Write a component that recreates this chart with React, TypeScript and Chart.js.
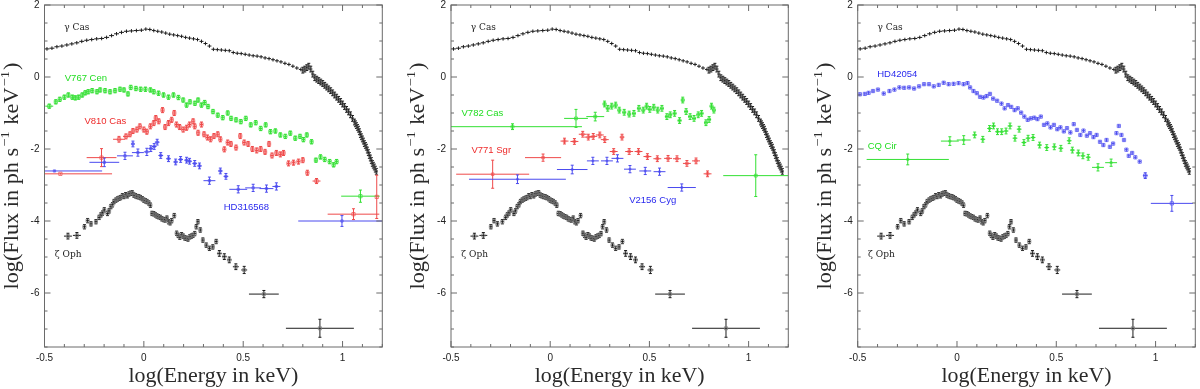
import React, { useEffect, useRef } from "react";
import { Chart, registerables } from "chart.js";
Chart.register(...registerables);

type P = number[]; // [x, y, xerr?, yerr?]

const X_MIN = -0.5, X_MAX = 1.2, Y_MIN = -7.5, Y_MAX = 2;
const X_MAJOR = [-0.5, 0, 0.5, 1];
const X_MAJOR_LABELS = ["-0.5", "0", "0.5", "1"];
const Y_MAJOR = [2, 0, -2, -4, -6];
const Y_MAJOR_LABELS = ["2", "0", "-2", "-4", "-6"];

// gamma Cas, split by bin width
const GAMMA_CAS_LOW: P[] = [
  [-0.4875,0.78],[-0.4625,0.8],[-0.4375,0.84],[-0.4125,0.86],[-0.3875,0.89],[-0.3625,0.92],[-0.3375,0.95],
  [-0.3125,0.99],[-0.2875,1.02],[-0.2625,1.04],[-0.2375,1.06],[-0.2125,1.07],[-0.1875,1.1],[-0.1625,1.15],
  [-0.1375,1.2],[-0.1125,1.24],[-0.0875,1.27],[-0.0625,1.28],[-0.0375,1.29],[-0.0125,1.3],
];
const GAMMA_CAS_MID: P[] = [
  [0.01,1.33],[0.03,1.32],[0.05,1.29],[0.07,1.27],[0.09,1.25],[0.11,1.22],[0.13,1.19],[0.15,1.17],
  [0.17,1.15],[0.19,1.13],[0.21,1.1],[0.23,1.08],[0.25,1.06],[0.27,1.04],[0.29,0.99],[0.31,0.93],
  [0.33,0.86],[0.35,0.77],[0.37,0.76],[0.39,0.75],[0.41,0.74],[0.43,0.73],[0.45,0.68],[0.47,0.66],
  [0.49,0.65],[0.51,0.63],[0.53,0.61],[0.55,0.59],[0.57,0.58],[0.59,0.56],[0.61,0.53],[0.63,0.51],
  [0.65,0.48],[0.67,0.45],[0.69,0.42],[0.71,0.38],[0.73,0.35],[0.75,0.3],[0.77,0.25],[0.79,0.21],
];
const GAMMA_CAS_HIGH: P[] = [
  [0.8,0.19],[0.81,0.22],[0.82,0.26],[0.83,0.3],[0.84,0.22],[0.85,0.08],[0.86,-0.02],[0.87,-0.06],
  [0.88,-0.1],[0.89,-0.14],[0.9,-0.18],[0.91,-0.23],[0.92,-0.28],[0.93,-0.33],[0.94,-0.38],[0.95,-0.44],
  [0.96,-0.5],[0.97,-0.56],[0.98,-0.62],[0.99,-0.68],[1.0,-0.75],[1.01,-0.82],[1.02,-0.9],[1.03,-0.97],
  [1.04,-1.05],[1.05,-1.15],[1.06,-1.25],[1.065,-1.3],[1.07,-1.35],[1.075,-1.4],[1.08,-1.45],
  [1.085,-1.52],[1.09,-1.6],[1.095,-1.66],[1.1,-1.72],[1.105,-1.78],[1.11,-1.85],[1.115,-1.9],
  [1.12,-1.95],[1.125,-2.03],[1.13,-2.1],[1.135,-2.18],[1.14,-2.25],[1.145,-2.32],[1.15,-2.4],
  [1.155,-2.45],[1.16,-2.5],[1.165,-2.56],[1.17,-2.62],
];

const ZETA_OPH: P[] = [
  [-0.382,-4.42,0.02,0.08],[-0.337,-4.4,0.02,0.08],[-0.299,-4.16],[-0.283,-3.99],[-0.266,-4.08],
  [-0.241,-4.02],[-0.225,-3.9],[-0.216,-3.83],[-0.208,-3.78],[-0.199,-3.69],[-0.183,-3.79],[-0.175,-3.72],
  [-0.166,-3.6],[-0.158,-3.55],[-0.15,-3.46],[-0.141,-3.42],[-0.133,-3.39],[-0.125,-3.37],[-0.117,-3.35],
  [-0.108,-3.3],[-0.1,-3.32],[-0.092,-3.27],[-0.083,-3.3],[-0.075,-3.25],[-0.067,-3.23],[-0.058,-3.22],
  [-0.05,-3.28],[-0.042,-3.3],[-0.034,-3.32],[-0.025,-3.33],[-0.017,-3.35],[-0.008,-3.38],[0,-3.42],
  [0.008,-3.44],[0.016,-3.46],[0.025,-3.5],[0.033,-3.56],[0.041,-3.79],[0.05,-3.8],[0.058,-3.83],
  [0.066,-3.86],[0.074,-3.88],[0.083,-3.9],[0.091,-3.94],[0.1,-3.96],[0.107,-3.97],[0.116,-3.92],
  [0.124,-4.02],[0.132,-4.05],[0.14,-3.99],[0.153,-3.85],[0.165,-4.34],[0.173,-4.4],[0.181,-4.45],
  [0.19,-4.38],[0.198,-4.42],[0.206,-4.47],[0.214,-4.48],[0.222,-4.5],[0.231,-4.44],[0.239,-4.42],
  [0.247,-4.4],[0.256,-4.35],[0.264,-4.16],[0.272,-4.02],[0.284,-4.25],[0.297,-4.53],[0.314,-4.67],
  [0.33,-4.76],[0.347,-4.72],[0.364,-4.57],[0.38,-4.9,0.012,0.08],[0.405,-4.99,0.012,0.08],
  [0.43,-5.08,0.012,0.08],[0.463,-5.27,0.015,0.08],[0.505,-5.36,0.015,0.1],
  [0.604,-6.03,0.075,0.1],[0.886,-6.98,0.171,0.25],
];

const V767_CEN: P[] = [
  [-0.476,-0.81,0.02,0.06],[-0.443,-0.69],[-0.423,-0.62],[-0.4,-0.56],[-0.38,-0.5],[-0.36,-0.56],
  [-0.345,-0.58],[-0.328,-0.56],[-0.31,-0.5],[-0.295,-0.44],[-0.28,-0.41],[-0.26,-0.38],[-0.236,-0.41],
  [-0.22,-0.36],[-0.195,-0.38],[-0.17,-0.41],[-0.145,-0.38],[-0.12,-0.34],[-0.1,-0.36],[-0.08,-0.47],
  [-0.066,-0.29],[-0.04,-0.32],[-0.016,-0.34],[0.008,-0.34],[0.033,-0.36],[0.05,-0.41],[0.074,-0.45],
  [0.099,-0.5],[0.124,-0.56],[0.149,-0.5],[0.174,-0.57],[0.198,-0.64],[0.215,-0.78],[0.232,-0.69],
  [0.257,-0.73],[0.273,-0.64],[0.29,-0.78],[0.306,-0.71],[0.323,-0.82],[0.348,-0.96],[0.372,-1.06],
  [0.397,-1.13],[0.422,-1.0],[0.439,-1.15],[0.464,-1.19],[0.488,-1.24],[0.513,-1.15],[0.538,-1.33],
  [0.563,-1.27],[0.588,-1.43],[0.613,-1.33],[0.637,-1.52],[0.662,-1.5],[0.687,-1.61],[0.712,-1.65],
  [0.737,-1.56],[0.762,-1.7],[0.786,-1.65],[0.803,-1.74],[0.82,-1.61],[0.844,-1.8],[0.866,-2.31],
  [0.889,-2.22],[0.91,-2.29],[0.935,-2.35],[0.955,-2.44],[0.97,-2.35],[1.09,-3.31,0.097,0.17],
];

const V810_CAS: P[] = [
  [-0.42,-2.69,0.26,0.02],[-0.213,-2.24,0.075,0.25],[-0.125,-1.73,0.03,0.08],[-0.09,-1.65,0.015,0.07],
  [-0.07,-1.59],[-0.055,-1.5],[-0.035,-1.46],[-0.02,-1.37],[0,-1.46],[0.015,-1.52],[0.033,-1.37],
  [0.05,-1.28],[0.06,-1.14],[0.075,-1.23],[0.094,-0.92],[0.107,-1.39],[0.124,-1.28],[0.14,-1.19],
  [0.153,-1.0],[0.164,-1.32],[0.18,-1.39],[0.198,-1.46],[0.215,-1.41],[0.23,-1.32],[0.248,-1.23],
  [0.256,-1.37],[0.273,-1.55],[0.29,-1.32],[0.303,-1.59],[0.32,-1.68],[0.336,-1.73],[0.353,-1.64],
  [0.372,-1.59],[0.385,-1.73],[0.405,-2.01],[0.422,-1.82],[0.438,-1.86],[0.464,-1.96],[0.485,-1.64],
  [0.505,-1.82],[0.525,-1.86],[0.546,-2.0],[0.568,-2.04],[0.588,-2.0],[0.61,-2.08],[0.63,-1.86],
  [0.645,-2.18],[0.667,-2.11],[0.687,-2.15],[0.703,-2.11],[0.728,-2.4],[0.753,-2.38],[0.778,-2.35],
  [0.8,-2.31],[0.823,-2.66],[0.869,-2.89,0.02,0.07],[1.055,-3.81,0.13,0.15],[1.172,-3.33,0.003,0.6],
];

const HD316568: P[] = [
  [-0.45,-2.61,0.24,0.02],[-0.199,-2.37,0.075,0.12],[-0.095,-2.19,0.04,0.1],[-0.055,-1.86,0.01,0.08],
  [-0.03,-2.1,0.03,0.1],[0.015,-2.08,0.015,0.1],[0.035,-1.99],[0.052,-1.93],[0.067,-1.81],[0.085,-2.18],
  [0.124,-2.27],[0.16,-2.36],[0.185,-2.29],[0.215,-2.31],[0.23,-2.34],[0.256,-2.4],[0.28,-2.47],
  [0.33,-2.88,0.03,0.1],[0.385,-2.61],[0.413,-2.76],[0.475,-3.12,0.045,0.1],[0.55,-3.08,0.04,0.1],
  [0.617,-3.1,0.035,0.1],[0.667,-3.04,0.02,0.1],[0.997,-4.0,0.22,0.15],
];

const V782_CAS: P[] = [
  [-0.19,-1.38,0.35,0.08],[0.13,-1.15,0.06,0.25],[0.227,-1.1,0.045,0.12],[0.274,-0.75],[0.29,-0.87],
  [0.31,-0.81],[0.33,-0.78],[0.348,-0.92],[0.373,-0.98],[0.398,-1.03],[0.422,-1.01],[0.447,-0.87],
  [0.469,-0.92],[0.486,-0.81],[0.502,-0.9],[0.522,-0.84],[0.542,-0.92],[0.563,-0.87],[0.588,-1.1],
  [0.605,-1.05],[0.627,-1.01],[0.652,-1.21],[0.668,-0.64],[0.685,-0.96],[0.705,-1.1],[0.725,-1.15],
  [0.746,-1.05],[0.763,-1.01],[0.785,-1.27],[0.801,-1.18],[0.813,-0.81],[0.825,-0.92],
  [1.036,-2.74,0.164,0.58],
];

const V771_SGR: P[] = [
  [-0.29,-2.7,0.184,0.39],[-0.036,-2.24,0.091,0.1],[0.072,-1.78],[0.122,-1.79],[0.164,-1.59],
  [0.192,-1.67],[0.217,-1.65],[0.25,-1.61],[0.275,-1.74],[0.32,-2.07],[0.362,-1.67,0.012,0.08],
  [0.398,-2.07],[0.445,-2.07],[0.49,-2.21],[0.54,-2.27],[0.594,-2.26],[0.639,-2.27],[0.689,-2.4],
  [0.735,-2.33],[0.793,-2.69],
];

const V2156_CYG: P[] = [
  [-0.165,-2.84,0.244,0.12],[0.111,-2.57,0.077,0.12],[0.215,-2.33],[0.286,-2.33],[0.339,-2.26],
  [0.402,-2.56],[0.479,-2.61],[0.551,-2.63],[0.663,-3.07,0.071,0.1],
];

const HD42054: P[] = [
  [-0.489,-0.48],[-0.464,-0.47],[-0.445,-0.44],[-0.423,-0.39],[-0.398,-0.35],[-0.369,-0.46],
  [-0.34,-0.39],[-0.315,-0.35],[-0.29,-0.29],[-0.266,-0.3],[-0.241,-0.29],[-0.216,-0.32],[-0.191,-0.26],
  [-0.166,-0.2],[-0.141,-0.2],[-0.117,-0.26],[-0.092,-0.22],[-0.067,-0.16],[-0.042,-0.2],[-0.017,-0.19],
  [0.008,-0.17],[0.033,-0.2],[0.053,-0.17],[0.066,-0.29],[0.083,-0.39],[0.1,-0.45],[0.116,-0.55],
  [0.133,-0.57],[0.149,-0.53],[0.166,-0.47],[0.182,-0.6],[0.202,-0.66],[0.224,-0.74],[0.24,-0.87],
  [0.257,-0.78],[0.273,-0.83],[0.29,-0.92],[0.306,-0.87],[0.323,-0.99],[0.339,-1.1],[0.356,-1.19],
  [0.372,-1.15],[0.389,-1.13],[0.405,-1.17],[0.422,-1.1],[0.438,-1.33],[0.455,-1.29],[0.471,-1.4],
  [0.488,-1.33],[0.505,-1.45],[0.521,-1.4],[0.538,-1.51],[0.554,-1.42],[0.571,-1.54],[0.588,-1.31],
  [0.604,-1.47],[0.621,-1.61],[0.637,-1.49],[0.654,-1.63],[0.67,-1.56],[0.687,-1.67],[0.703,-1.61],
  [0.72,-1.8],[0.737,-1.89],[0.753,-1.75],[0.77,-1.94],[0.786,-1.85],[0.803,-1.56],[0.815,-1.36],
  [0.828,-1.61],[0.841,-1.75],[0.853,-2.02],[0.865,-2.19],[0.882,-2.11],[0.898,-2.23],[0.92,-2.35],
  [0.948,-2.74,0.012,0.08],[1.082,-3.51,0.106,0.22],
];

const CQ_CIR: P[] = [
  [-0.248,-2.29,0.207,0.15],[-0.036,-1.78,0.045,0.12],[0.034,-1.75,0.035,0.12],[0.089,-1.61],
  [0.13,-1.73],[0.164,-1.43],[0.184,-1.36],[0.204,-1.52],[0.225,-1.52],[0.247,-1.5],[0.267,-1.36],
  [0.292,-1.7],[0.313,-1.45],[0.337,-1.82],[0.358,-1.7],[0.383,-1.68],[0.416,-1.89],[0.452,-1.96],
  [0.49,-1.94],[0.523,-1.98],[0.565,-1.77],[0.581,-2.03],[0.611,-2.11],[0.634,-2.19],[0.661,-2.23],
  [0.71,-2.51,0.03,0.1],[0.776,-2.38,0.03,0.1],
];

const BLACK = "#1c1c1c";
const GREEN = "#33e033";
const RED = "#ef4a4a";
const BLUE = "#4a4aef";

type Series = { pts: P[]; color: string; mark: string; xe: number; ye: number; r: number };
type Label = { text: string; x: number; y: number; color: string; serif?: boolean };

const GCAS: Series[] = [
  { pts: GAMMA_CAS_LOW, color: BLACK, mark: BLACK, xe: 0.0125, ye: 0.05, r: 0 },
  { pts: GAMMA_CAS_MID, color: BLACK, mark: BLACK, xe: 0.01, ye: 0.05, r: 0 },
  { pts: GAMMA_CAS_HIGH, color: BLACK, mark: "#555", xe: 0.005, ye: 0.08, r: 1.6 },
];
const ZOPH: Series = { pts: ZETA_OPH, color: BLACK, mark: "#777", xe: 0.008, ye: 0.06, r: 2.2 };

const PANELS: { series: Series[]; labels: Label[]; left: number; padLeft: number }[] = [
  {
    left: 0, padLeft: 44.5,
    series: [
      ...GCAS,
      { pts: V767_CEN, color: GREEN, mark: GREEN, xe: 0.008, ye: 0.06, r: 2.3 },
      { pts: V810_CAS, color: RED, mark: RED, xe: 0.008, ye: 0.07, r: 2.3 },
      { pts: HD316568, color: BLUE, mark: BLUE, xe: 0.012, ye: 0.08, r: 1.6 },
      ZOPH,
    ],
    labels: [
      { text: "γ Cas", x: -0.4, y: 1.36, color: "#222", serif: true },
      { text: "V767 Cen", x: -0.398, y: -0.03, color: "#22dd22" },
      { text: "V810 Cas", x: -0.299, y: -1.22, color: "#ee2a2a" },
      { text: "HD316568", x: 0.402, y: -3.61, color: "#2a2aee" },
      { text: "ζ Oph", x: -0.448, y: -4.94, color: "#222", serif: true },
    ],
  },
  {
    left: 406, padLeft: 45,
    series: [
      ...GCAS,
      { pts: V782_CAS, color: GREEN, mark: GREEN, xe: 0.01, ye: 0.08, r: 2 },
      { pts: V771_SGR, color: RED, mark: RED, xe: 0.02, ye: 0.08, r: 1.8 },
      { pts: V2156_CYG, color: BLUE, mark: BLUE, xe: 0.03, ye: 0.1, r: 1.2 },
      ZOPH,
    ],
    labels: [
      { text: "γ Cas", x: -0.4, y: 1.36, color: "#222", serif: true },
      { text: "V782 Cas", x: -0.447, y: -1.01, color: "#22dd22" },
      { text: "V771 Sgr", x: -0.397, y: -2.05, color: "#ee2a2a" },
      { text: "V2156 Cyg", x: 0.398, y: -3.42, color: "#2a2aee" },
      { text: "ζ Oph", x: -0.448, y: -4.94, color: "#222", serif: true },
    ],
  },
  {
    left: 813, padLeft: 44.7,
    series: [
      ...GCAS,
      { pts: CQ_CIR, color: GREEN, mark: GREEN, xe: 0.012, ye: 0.08, r: 1.4 },
      { pts: HD42054, color: BLUE, mark: BLUE, xe: 0.007, ye: 0.05, r: 2.3 },
      ZOPH,
    ],
    labels: [
      { text: "γ Cas", x: -0.4, y: 1.36, color: "#222", serif: true },
      { text: "HD42054", x: -0.402, y: 0.08, color: "#2a2aee" },
      { text: "CQ Cir", x: -0.45, y: -1.94, color: "#22dd22" },
      { text: "ζ Oph", x: -0.448, y: -4.94, color: "#222", serif: true },
    ],
  },
];

const CW = 387, CH = 389, PLOT = 342;

function makePlugin(labels: Label[]) {
  return {
    id: "spectra",
    beforeDatasetsDraw(chart: any) {
      const ctx = chart.ctx as CanvasRenderingContext2D;
      const { left, top, right, bottom } = chart.chartArea;
      const xs = chart.scales.x, ys = chart.scales.y;
      ctx.save();
      ctx.beginPath();
      ctx.rect(left, top, right - left, bottom - top);
      ctx.clip();
      chart.data.datasets.forEach((ds: any) => {
        ctx.strokeStyle = ds.errColor;
        ctx.lineWidth = 1;
        ctx.beginPath();
        ds.data.forEach((p: any) => {
          const px = xs.getPixelForValue(p.x), py = ys.getPixelForValue(p.y);
          const x0 = xs.getPixelForValue(p.x - p.xe), x1 = xs.getPixelForValue(p.x + p.xe);
          const y0 = ys.getPixelForValue(p.y - p.ye), y1 = ys.getPixelForValue(p.y + p.ye);
          ctx.moveTo(x0, py); ctx.lineTo(x1, py);
          ctx.moveTo(px, y0); ctx.lineTo(px, y1);
          if (Math.abs(y1 - y0) > 4) {
            ctx.moveTo(px - 1.5, y0); ctx.lineTo(px + 1.5, y0);
            ctx.moveTo(px - 1.5, y1); ctx.lineTo(px + 1.5, y1);
          }
        });
        ctx.stroke();
      });
      ctx.restore();
    },
    afterDraw(chart: any) {
      const ctx = chart.ctx as CanvasRenderingContext2D;
      const { left, top, right, bottom } = chart.chartArea;
      const xs = chart.scales.x, ys = chart.scales.y;
      ctx.save();
      // frame
      ctx.strokeStyle = "#6a6a6a";
      ctx.lineWidth = 1;
      ctx.strokeRect(left, top, right - left, bottom - top);
      ctx.beginPath();
      for (let i = -5; i <= 12; i++) {
        const v = i / 10;
        const px = xs.getPixelForValue(v);
        const len = i % 5 === 0 ? 6 : 3;
        ctx.moveTo(px, bottom); ctx.lineTo(px, bottom - len);
        ctx.moveTo(px, top); ctx.lineTo(px, top + len);
      }
      for (let i = -15; i <= 4; i++) {
        const v = i / 2;
        const py = ys.getPixelForValue(v);
        const len = i % 4 === 0 ? 6 : 3;
        ctx.moveTo(left, py); ctx.lineTo(left + len, py);
        ctx.moveTo(right, py); ctx.lineTo(right - len, py);
      }
      ctx.stroke();
      // tick labels
      ctx.fillStyle = "#222";
      ctx.font = "10px 'Liberation Sans', Arial, sans-serif";
      ctx.textAlign = "center";
      ctx.textBaseline = "middle";
      X_MAJOR.forEach((v, i) => ctx.fillText(X_MAJOR_LABELS[i], xs.getPixelForValue(v), 358));
      ctx.textAlign = "right";
      Y_MAJOR.forEach((v, i) => ctx.fillText(Y_MAJOR_LABELS[i], left - 5, ys.getPixelForValue(v)));
      // series labels
      ctx.textAlign = "left";
      labels.forEach((l) => {
        ctx.fillStyle = l.color;
        ctx.font = l.serif ? "9px 'DejaVu Serif', serif" : "9.5px 'Liberation Sans', Arial, sans-serif";
        ctx.fillText(l.text, xs.getPixelForValue(l.x), ys.getPixelForValue(l.y));
      });
      // x title
      ctx.fillStyle = "#2a2a2a";
      ctx.font = "20px 'Liberation Serif', serif";
      ctx.textAlign = "left";
      ctx.textBaseline = "alphabetic";
      const xt = "log(Energy in keV)";
      const xw = ctx.measureText(xt).width;
      const xk = 170 / xw;
      ctx.save();
      ctx.translate((left + right) / 2 - 85, 382);
      ctx.scale(xk, 1);
      ctx.fillText(xt, 0, 0);
      ctx.restore();
      // y title with superscripts
      const parts: [string, boolean][] = [["log(Flux in ph s", false], ["−1", true], [" keV", false], ["−1", true], [")", false]];
      const big = "20px 'Liberation Serif', serif", small = "13px 'Liberation Serif', serif";
      let total = 0;
      parts.forEach(([t, sup]) => { ctx.font = sup ? small : big; total += ctx.measureText(t).width + (sup ? 2 : 0); });
      const yk = 227 / total;
      ctx.save();
      ctx.translate(18, (top + bottom) / 2);
      ctx.rotate(-Math.PI / 2);
      ctx.scale(yk, 1);
      let cx = -total / 2;
      parts.forEach(([t, sup]) => {
        ctx.font = sup ? small : big;
        ctx.fillText(t, cx + (sup ? 1 : 0), sup ? -9 : 0);
        cx += ctx.measureText(t).width + (sup ? 2 : 0);
      });
      ctx.restore();
      ctx.restore();
    },
  };
}

function Panel({ cfg }: { cfg: (typeof PANELS)[number] }) {
  const ref = useRef<HTMLCanvasElement>(null);
  useEffect(() => {
    if (!ref.current) return;
    const datasets = cfg.series.map((s) => ({
      data: s.pts.map((p) => ({ x: p[0], y: p[1], xe: p.length > 2 ? p[2] : s.xe, ye: p.length > 3 ? p[3] : s.ye })),
      errColor: s.color,
      showLine: false,
      pointStyle: "rect",
      pointRadius: s.r,
      pointBorderWidth: 0.7,
      pointBorderColor: s.mark,
      pointBackgroundColor: "rgba(255,255,255,0)",
    }));
    const chart = new Chart(ref.current, {
      type: "scatter",
      data: { datasets } as any,
      options: {
        animation: false,
        responsive: false,
        devicePixelRatio: 1,
        events: [],
        layout: { padding: { left: cfg.padLeft, top: 5, right: CW - cfg.padLeft - PLOT, bottom: CH - 347 } },
        scales: {
          x: { type: "linear", min: X_MIN, max: X_MAX, display: false },
          y: { type: "linear", min: Y_MIN, max: Y_MAX, display: false },
        },
        plugins: { legend: { display: false }, tooltip: { enabled: false } },
      } as any,
      plugins: [makePlugin(cfg.labels)],
    });
    return () => chart.destroy();
  }, [cfg]);
  return (
    <canvas
      ref={ref}
      width={CW}
      height={CH}
      style={{ position: "absolute", left: cfg.left, top: 0, width: CW, height: CH }}
    />
  );
}

export default function App() {
  return (
    <div style={{ position: "absolute", left: 0, top: 0, width: 1200, height: 389, overflow: "hidden", background: "#fff" }}>
      {PANELS.map((p, i) => (
        <Panel key={i} cfg={p} />
      ))}
    </div>
  );
}
